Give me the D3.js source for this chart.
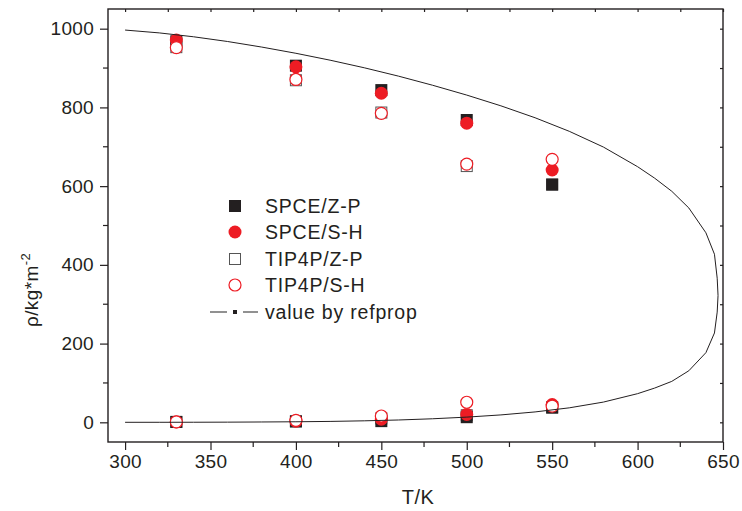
<!DOCTYPE html>
<html>
<head>
<meta charset="utf-8">
<script src="https://cdn.jsdelivr.net/npm/d3@7"></script>
<style>
  body { margin: 0; background: #fff; }
  svg { font-family: "Liberation Sans", Arial, sans-serif; }
</style>
</head>
<body>
<svg id="chart" width="742" height="511"></svg>
<script>
// simulation temperatures
const temps = [330, 400, 450, 500, 550];

// liquid / vapour densities per model
const spceZP_liq = [968, 906, 844, 768, 604];
const spceZP_vap = [1, 2, 3, 13, 38];
const spceSH_liq = [971, 903, 836, 760, 641];
const spceSH_vap = [1, 3, 8, 20, 45];
const tip4pZP_liq = [953, 869, 787, 651, 604];
const tip4pZP_vap = [1, 3, 10, 18, 37];
const tip4pSH_liq = [952, 871, 785, 656, 668];
const tip4pSH_vap = [1, 5, 16, 51, 41];

// refprop saturation curve
const refT   = [300, 320, 340, 360, 380, 400, 420, 440, 460, 480, 500, 520, 540, 560, 580, 600, 610, 620, 630, 640, 645, 646.6, 647.1];
const refLiq = [996.5, 989.3, 979.5, 967.4, 953.3, 937.5, 920.0, 900.7, 879.5, 856.3, 831.3, 804.0, 773.7, 739.3, 699.3, 649.4, 620.2, 587.0, 544.5, 481.5, 427, 366, 322];
const refVap = [0.03, 0.08, 0.19, 0.42, 0.87, 1.4, 2.3, 3.8, 5.9, 9.0, 13.2, 18.8, 26.4, 36.8, 51.4, 72.8, 87, 104, 131, 177, 227, 280, 322];

const xTicks = [300, 350, 400, 450, 500, 550, 600, 650];
const yTicks = [0, 200, 400, 600, 800, 1000];

const svg = d3.select("#chart");
const plotL = 108, plotR = 723, plotT = 9, plotB = 442;

const x = d3.scaleLinear().domain([290, 650]).range([plotL, plotR]);
const y = d3.scaleLinear().domain([-50, 1050]).range([plotB, plotT]);

const ink = "#231f20";
const red = "#ed1c24";

// axes
const minorX = d3.range(325, 650, 50);
const minorY = d3.range(100, 1050, 200);

const gx = svg.append("g").attr("transform", `translate(0,${plotB})`)
  .call(d3.axisBottom(x).tickValues(xTicks).tickSize(8).tickPadding(5).tickFormat(d3.format("d")));
gx.append("g").selectAll("line").data(minorX).join("line")
  .attr("x1", d => x(d)).attr("x2", d => x(d)).attr("y1", 0).attr("y2", 5);

const gy = svg.append("g").attr("transform", `translate(${plotL},0)`)
  .call(d3.axisLeft(y).tickValues(yTicks).tickSize(8).tickPadding(5).tickFormat(d3.format("d")));
gy.append("g").selectAll("line").data(minorY).join("line")
  .attr("y1", d => y(d)).attr("y2", d => y(d)).attr("x1", 0).attr("x2", -5);

const gt = svg.append("g").attr("transform", `translate(0,${plotT})`)
  .call(d3.axisTop(x).tickValues(xTicks.concat(minorX)).tickSize(-3).tickFormat(""));
const gr = svg.append("g").attr("transform", `translate(${plotR},0)`)
  .call(d3.axisRight(y).tickValues(yTicks.concat(minorY)).tickSize(-3).tickFormat(""));

[gx, gy, gt, gr].forEach(g => {
  g.select(".domain").remove();
  g.selectAll("line").attr("stroke", ink).attr("stroke-width", 1.2);
  g.selectAll("text").attr("fill", ink).attr("font-size", 19).attr("letter-spacing", 0.3)
    .attr("font-family", "Liberation Sans, Arial, sans-serif");
});
gy.selectAll("text").attr("dx", -1);

svg.append("rect")
  .attr("x", plotL).attr("y", plotT)
  .attr("width", plotR - plotL).attr("height", plotB - plotT)
  .attr("fill", "none").attr("stroke", ink).attr("stroke-width", 1.4);

// markers (open squares first, they sit under the filled ones)
const pts = (liq, vap) => temps.flatMap((t, i) => [[t, liq[i]], [t, vap[i]]]);
const sq = 12, rad = 6.5;

svg.append("g").selectAll("rect").data(pts(tip4pZP_liq, tip4pZP_vap)).join("rect")
  .attr("x", d => x(d[0]) - sq / 2 + 0.5).attr("y", d => y(d[1]) - sq / 2 + 0.5)
  .attr("width", sq - 1).attr("height", sq - 1)
  .attr("fill", "#fff").attr("stroke", "#555").attr("stroke-width", 1);

svg.append("g").selectAll("rect").data(pts(spceZP_liq, spceZP_vap)).join("rect")
  .attr("x", d => x(d[0]) - sq / 2).attr("y", d => y(d[1]) - sq / 2)
  .attr("width", sq).attr("height", sq).attr("fill", ink);

svg.append("g").selectAll("circle").data(pts(spceSH_liq, spceSH_vap)).join("circle")
  .attr("cx", d => x(d[0])).attr("cy", d => y(d[1])).attr("r", rad).attr("fill", red);

svg.append("g").selectAll("circle").data(pts(tip4pSH_liq, tip4pSH_vap)).join("circle")
  .attr("cx", d => x(d[0])).attr("cy", d => y(d[1])).attr("r", rad - 0.5)
  .attr("fill", "#fff").attr("stroke", red).attr("stroke-width", 1.2);

// refprop curve: liquid branch up to critical point, then vapour branch back
const curve = refT.map((t, i) => [t, refLiq[i]])
  .concat(refT.map((t, i) => [t, refVap[i]]).reverse());
svg.append("path")
  .datum(curve)
  .attr("d", d3.line().x(d => x(d[0])).y(d => y(d[1])))
  .attr("fill", "none").attr("stroke", ink).attr("stroke-width", 1);

// legend
const legend = svg.append("g").attr("font-size", 19.5).attr("letter-spacing", 0.8).attr("fill", ink);
const rows = [206, 232, 259, 285, 312];
const lx = 235, tx = 265;
legend.append("rect").attr("x", lx - 6).attr("y", rows[0] - 6).attr("width", 12).attr("height", 12).attr("fill", ink);
legend.append("circle").attr("cx", lx).attr("cy", rows[1]).attr("r", 6.5).attr("fill", red);
legend.append("rect").attr("x", lx - 5.5).attr("y", rows[2] - 5.5).attr("width", 11).attr("height", 11)
  .attr("fill", "#fff").attr("stroke", "#555");
legend.append("circle").attr("cx", lx).attr("cy", rows[3]).attr("r", 6)
  .attr("fill", "#fff").attr("stroke", red).attr("stroke-width", 1.2);
legend.append("line").attr("x1", 210).attr("x2", 227).attr("y1", rows[4]).attr("y2", rows[4]).attr("stroke", "#555").attr("stroke-width", 1.3);
legend.append("rect").attr("x", lx - 2).attr("y", rows[4] - 2).attr("width", 4).attr("height", 4).attr("fill", ink);
legend.append("line").attr("x1", 243).attr("x2", 258).attr("y1", rows[4]).attr("y2", rows[4]).attr("stroke", "#555").attr("stroke-width", 1.3);
const labels = ["SPCE/Z-P", "SPCE/S-H", "TIP4P/Z-P", "TIP4P/S-H", "value by refprop"];
legend.selectAll("text").data(labels).join("text")
  .attr("x", tx).attr("y", (d, i) => rows[i]).attr("dy", "0.35em").text(d => d);

// axis titles
svg.append("text").attr("x", 418).attr("y", 504)
  .attr("text-anchor", "middle").attr("font-size", 20).attr("letter-spacing", 0.5).attr("fill", ink).text("T/K");

const yt = svg.append("text").attr("transform", "translate(38,290) rotate(-90)")
  .attr("text-anchor", "middle").attr("font-size", 19).attr("letter-spacing", 0.4).attr("fill", ink);
yt.append("tspan").text("ρ/kg*m");
yt.append("tspan").attr("dy", -8).attr("font-size", 13).text("-2");
</script>
</body>
</html>
